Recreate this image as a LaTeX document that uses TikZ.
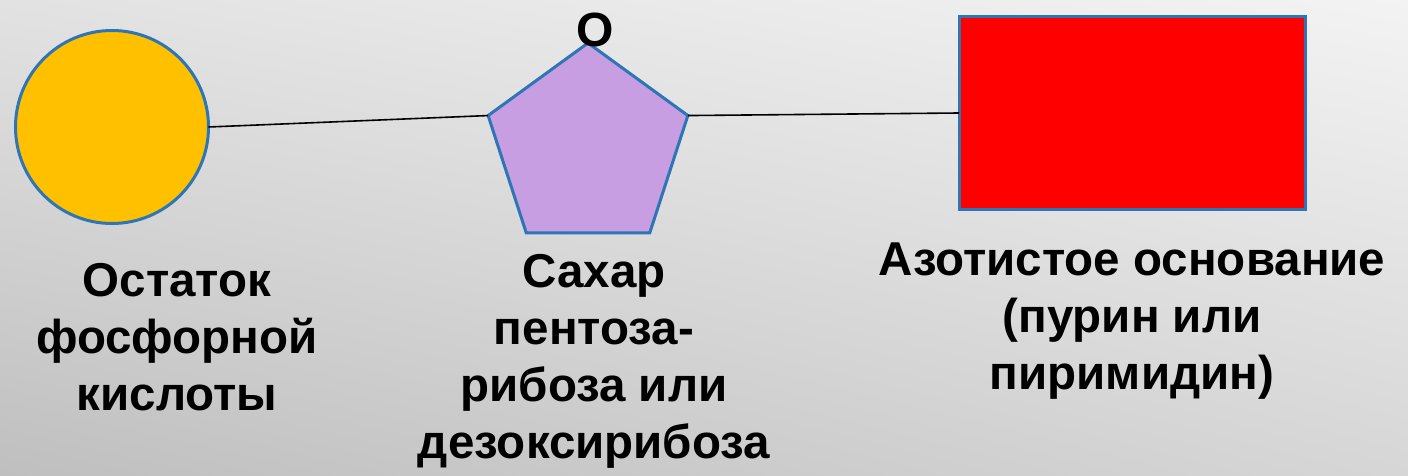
\documentclass[tikz,border=0pt]{standalone}
\usepackage{fontspec}
\setmainfont{Liberation Sans}
\usetikzlibrary{shapes.geometric,shadings}
\definecolor{bord}{HTML}{2E75B6}
\definecolor{gold}{HTML}{FFC000}
\definecolor{lilac}{HTML}{C89EE2}
\definecolor{bgul}{HTML}{E2E2E2}
\definecolor{bgur}{HTML}{F3F3F3}
\definecolor{bgll}{HTML}{BFBFBF}
\definecolor{bglr}{HTML}{D6D6D6}
\begin{document}
\begin{tikzpicture}[x=1pt,y=-1pt,
  shapeline/.style={draw=bord,line width=3pt,inner sep=0pt,outer sep=0pt},
  bond/.style={line width=1.6pt,black},
  lbl/.style={font=\bfseries\fontsize{47.5}{57}\selectfont,align=center,inner sep=0pt,anchor=north}]
\shade[upper left=bgul,upper right=bgur,lower left=bgll,lower right=bglr] (0,0) rectangle (1408,476);
\useasboundingbox (0,0) rectangle (1408,476);
\node[shapeline,circle,fill=gold,minimum size=193pt] (ph) at (112,127) {};
\node[shapeline,regular polygon,regular polygon sides=5,fill=lilac,minimum size=210pt] (sug) at (588,148) {};
\node[shapeline,rectangle,fill=red,minimum width=346pt,minimum height=192pt] (base) at (1132,113) {};
\draw[bond] (ph.east) -- (sug.corner 2);
\draw[bond] (sug.corner 5) -- (base.west);
\node[font=\bfseries\fontsize{48}{50}\selectfont,inner sep=0pt] (o) at (595,30) {O};
\node[lbl] (t1) at (177,263) {Остаток\\фосфорной\\кислоты};
\node[lbl] (t2) at (594,254) {Сахар\\пентоза-\\рибоза или\\дезоксирибоза};
\node[lbl] (t3) at (1132,243) {Азотистое основание\\(пурин или\\пиримидин)};
\end{tikzpicture}
\end{document}
